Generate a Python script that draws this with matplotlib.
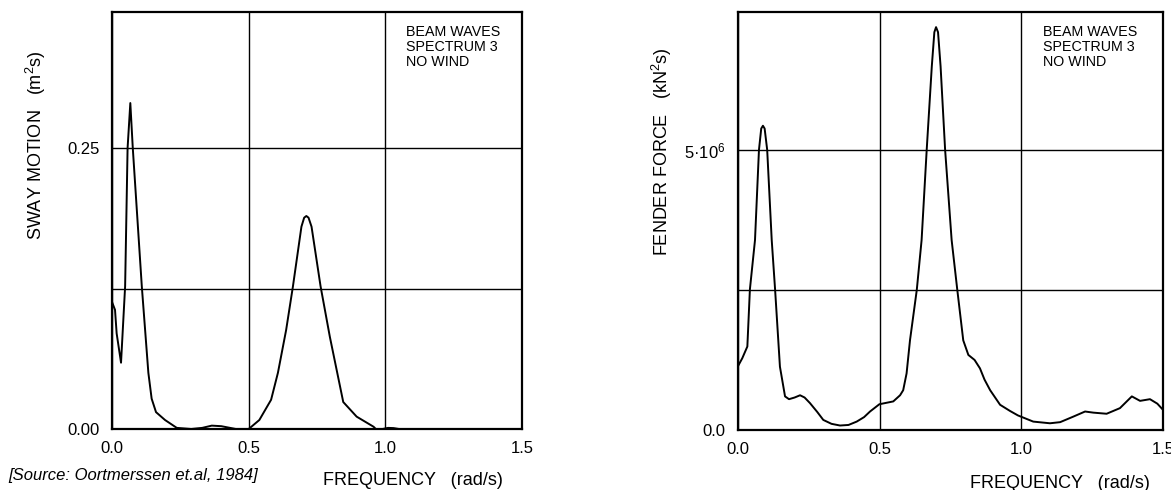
import matplotlib
matplotlib.use("Agg")
import matplotlib.pyplot as plt

plt.rcParams['font.family'] = ['Liberation Sans', 'DejaVu Sans']
plt.rcParams['mathtext.fontset'] = 'custom'
plt.rcParams['mathtext.rm'] = 'Liberation Sans'
plt.rcParams['mathtext.it'] = 'Liberation Sans:italic'

# sway motion spectrum (m^2 s)
sway_freq = [0.0, 0.011, 0.017, 0.033, 0.048, 0.057, 0.067, 0.076, 0.109, 0.133,
             0.145, 0.161, 0.194, 0.237, 0.29, 0.33, 0.365, 0.40, 0.453, 0.50,
             0.539, 0.582, 0.607, 0.637, 0.662, 0.693, 0.703, 0.711, 0.719, 0.730,
             0.763, 0.797, 0.846, 0.895, 0.957, 0.965, 0.99, 1.01, 1.03, 1.05, 1.5]
sway_val = [0.113, 0.106, 0.085, 0.059, 0.127, 0.25, 0.290, 0.25, 0.127, 0.05,
            0.027, 0.015, 0.008, 0.001, 0.0, 0.001, 0.003, 0.0025, 0.0, 0.0,
            0.008, 0.026, 0.05, 0.088, 0.127, 0.18, 0.188, 0.1895, 0.188, 0.18,
            0.127, 0.082, 0.024, 0.011, 0.002, 0.0, 0.0, 0.001, 0.0008, 0.0, 0.0]

# fender force spectrum (kN^2 s), in 1e6
fender_freq = [0.0, 0.015, 0.033, 0.042, 0.06, 0.074, 0.082, 0.088, 0.094, 0.103,
               0.119, 0.131, 0.148, 0.166, 0.18, 0.20, 0.219, 0.235, 0.254, 0.28,
               0.301, 0.33, 0.36, 0.39, 0.419, 0.445, 0.466, 0.499, 0.548, 0.572,
               0.583, 0.595, 0.607, 0.631, 0.648, 0.666, 0.684, 0.693, 0.699, 0.706,
               0.715, 0.731, 0.754, 0.774, 0.795, 0.813, 0.835, 0.854, 0.87, 0.89,
               0.925, 0.96, 0.988, 1.042, 1.101, 1.137, 1.184, 1.225, 1.254, 1.301,
               1.348, 1.39, 1.419, 1.454, 1.48, 1.5]
fender_val = [1.14, 1.28, 1.49, 2.51, 3.39, 5.0, 5.38, 5.43, 5.38, 5.0,
              3.39, 2.5, 1.13, 0.6, 0.55, 0.58, 0.62, 0.58, 0.48, 0.32,
              0.18, 0.11, 0.08, 0.09, 0.15, 0.23, 0.33, 0.46, 0.51, 0.62,
              0.71, 1.01, 1.6, 2.5, 3.39, 5.0, 6.49, 7.1, 7.19, 7.1,
              6.49, 5.0, 3.39, 2.5, 1.6, 1.34, 1.25, 1.1, 0.9, 0.71,
              0.45, 0.34, 0.26, 0.15, 0.12, 0.14, 0.24, 0.33, 0.31, 0.29,
              0.39, 0.6, 0.52, 0.55, 0.47, 0.36]
fender_val = [v * 1e6 for v in fender_val]

x_ticks = [0.0, 0.5, 1.0, 1.5]
x_tick_labels = ["0.0", "0.5", "1.0", "1.5"]
sway_ticks = [0.0, 0.25]
sway_tick_labels = ["0.00", "0.25"]
sway_grid = [0.125]
fender_ticks = [0.0, 5e6]
fender_tick_labels = ["0.0", "5·10$^6$"]
fender_grid = [2.5e6]

note = "BEAM WAVES\nSPECTRUM 3\nNO WIND"

fig = plt.figure(figsize=(11.71, 4.9), dpi=100)
ax1 = fig.add_axes([0.09565, 0.12449, 0.35013, 0.85102])
ax2 = fig.add_axes([0.63023, 0.12245, 0.36294, 0.85306])


def style_axes(ax, yticks, ylabels, yminor, ytop):
    ax.set_xlim(0, 1.5)
    ax.set_ylim(0, ytop)
    ax.set_xticks(x_ticks)
    ax.set_xticklabels(x_tick_labels)
    ax.set_yticks(yticks)
    ax.set_yticklabels(ylabels)
    ax.set_yticks(yminor, minor=True)
    ax.tick_params(which='both', length=0, labelsize=12)
    ax.tick_params(axis='x', pad=9)
    ax.tick_params(axis='y', pad=9)
    ax.grid(True, which='both', color='black', linewidth=1.0)
    ax.set_axisbelow(True)
    for s in ax.spines.values():
        s.set_linewidth(1.6)
    ax.text(0.717, 0.97, note, transform=ax.transAxes, va='top', ha='left',
            fontsize=10.3, linespacing=1.1)


ax1.plot(sway_freq, sway_val, color='black', linewidth=1.4, solid_joinstyle='round')
style_axes(ax1, sway_ticks, sway_tick_labels, sway_grid, 0.371)

ax2.plot(fender_freq, fender_val, color='black', linewidth=1.4, solid_joinstyle='round')
style_axes(ax2, fender_ticks, fender_tick_labels, fender_grid, 7.46e6)

fig.text(36 / 1171, 1 - 145 / 490, "SWAY MOTION   (m$^2$s)", rotation=90,
         ha='center', va='center', fontsize=13)
fig.text(662 / 1171, 1 - 152 / 490, "FENDER FORCE   (kN$^2$s)", rotation=90,
         ha='center', va='center', fontsize=13)
fig.text(413 / 1171, 1 - 480 / 490, "FREQUENCY   (rad/s)", ha='center', va='center', fontsize=13)
fig.text(1060 / 1171, 1 - 483 / 490, "FREQUENCY   (rad/s)", ha='center', va='center', fontsize=13)
fig.text(8 / 1171, 1 - 475 / 490, "[Source: Oortmerssen et.al, 1984]", style='italic',
         ha='left', va='center', fontsize=12)

fig.savefig("out.png", dpi=100)
